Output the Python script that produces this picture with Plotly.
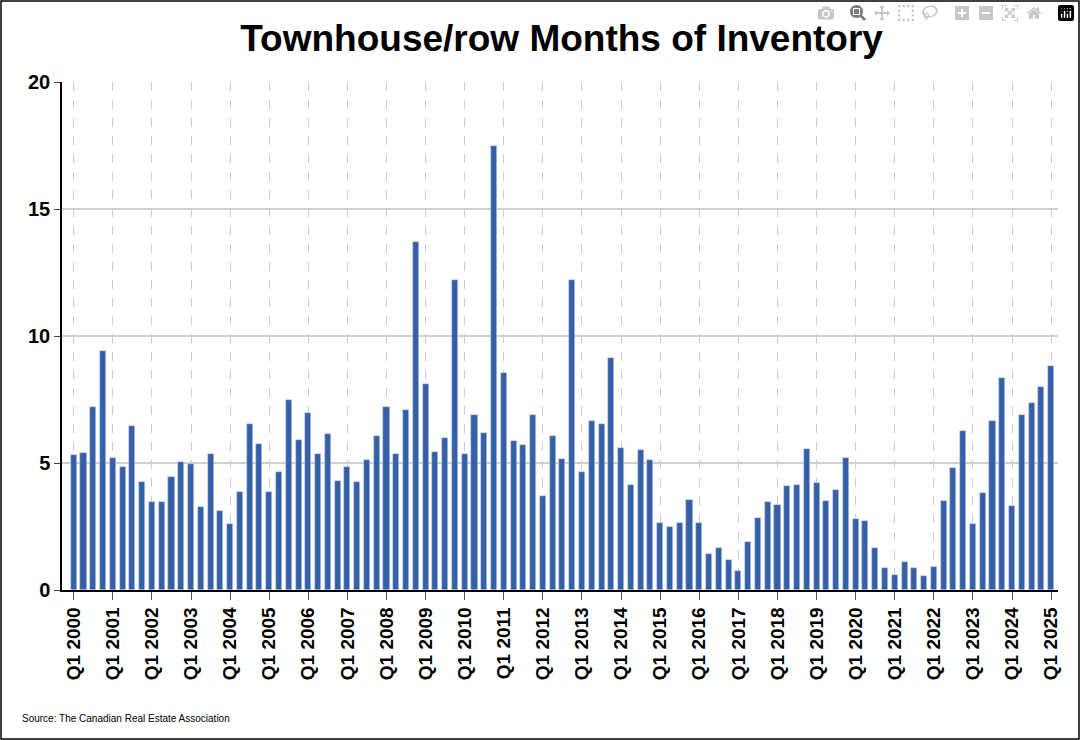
import plotly.graph_objects as go

values = [5.3, 5.4, 7.2, 9.4,
          5.2, 4.85, 6.45, 4.25,
          3.45, 3.45, 4.45, 5.05,
          4.95, 3.25, 5.35, 3.1,
          2.6, 3.85, 6.55, 5.75,
          3.85, 4.65, 7.5, 5.9,
          6.95, 5.35, 6.15, 4.3,
          4.85, 4.25, 5.1, 6.05,
          7.2, 5.35, 7.1, 13.7,
          8.1, 5.45, 6.0, 12.2,
          5.35, 6.9, 6.2, 17.5,
          8.55, 5.85, 5.7, 6.9,
          3.7, 6.05, 5.15, 12.2,
          4.65, 6.65, 6.55, 9.15,
          5.6, 4.15, 5.5, 5.1,
          2.65, 2.5, 2.65, 3.55,
          2.65, 1.4, 1.65, 1.2,
          0.75, 1.9, 2.85, 3.45,
          3.35, 4.1, 4.15, 5.55,
          4.2, 3.5, 3.95, 5.2,
          2.8, 2.7, 1.65, 0.85,
          0.6, 1.1, 0.85, 0.55,
          0.9, 3.5, 4.8, 6.25,
          2.6, 3.8, 6.65, 8.35,
          3.3, 6.9, 7.35, 8.0,
          8.8]
quarters = [f"Q{q} {y}" for y in range(2000, 2026) for q in range(1, 5)][:len(values)]
tick_idx = list(range(0, len(values), 4))
tick_labels = [quarters[i] for i in tick_idx]

fig = go.Figure(go.Bar(x=list(range(len(values))), y=values, width=0.62,
                       marker=dict(color="#3560a8", line=dict(color="#c8d4ea", width=0.6)),
                       hovertext=quarters))

fig.update_layout(
    width=1080, height=740, plot_bgcolor="white", paper_bgcolor="white",
    margin=dict(l=62, r=22, t=82, b=150),
    title=dict(text="<b>Townhouse/row Months of Inventory</b>", x=0.52, xanchor="center",
               y=1 - 38/740, yanchor="middle",
               font=dict(family="Arial, Liberation Sans", size=37, color="black")),
    font=dict(family="Arial, Liberation Sans", color="black"),
    showlegend=False, bargap=0,
)
fig.update_xaxes(range=[-1.2, 100.7], tickmode="array", tickvals=tick_idx, ticktext=tick_labels,
                 tickangle=-90, tickfont=dict(size=19, family="Arial, Liberation Sans", weight="bold"),
                 showgrid=True, gridcolor="#cccccc", griddash="dash", gridwidth=1,
                 showline=True, linecolor="black", linewidth=1.5, ticks="outside", ticklen=8,
                 tickcolor="#555", zeroline=False)
fig.update_yaxes(range=[0, 20], tickvals=[0, 5, 10, 15, 20],
                 tickfont=dict(size=20, family="Arial, Liberation Sans", weight="bold"),
                 showgrid=True, gridcolor="#d0d0d0", gridwidth=1.5,
                 showline=True, linecolor="black", linewidth=1.5, ticks="outside", ticklen=6,
                 zeroline=False)
fig.add_shape(type="rect", xref="paper", yref="paper", x0=-61/996, x1=1+21/996,
              y0=-149/508, y1=1+81/508, line=dict(color="black", width=1.5))
fig.add_annotation(text="Source: The Canadian Real Estate Association", xref="paper", yref="paper",
                   x=-42/996, y=-128/508, xanchor="left", yanchor="middle", showarrow=False,
                   font=dict(size=10, family="Arial, Liberation Sans"))
fig.write_html("out.html", post_script="document.body.style.margin='0px';document.body.style.overflow='hidden';")
